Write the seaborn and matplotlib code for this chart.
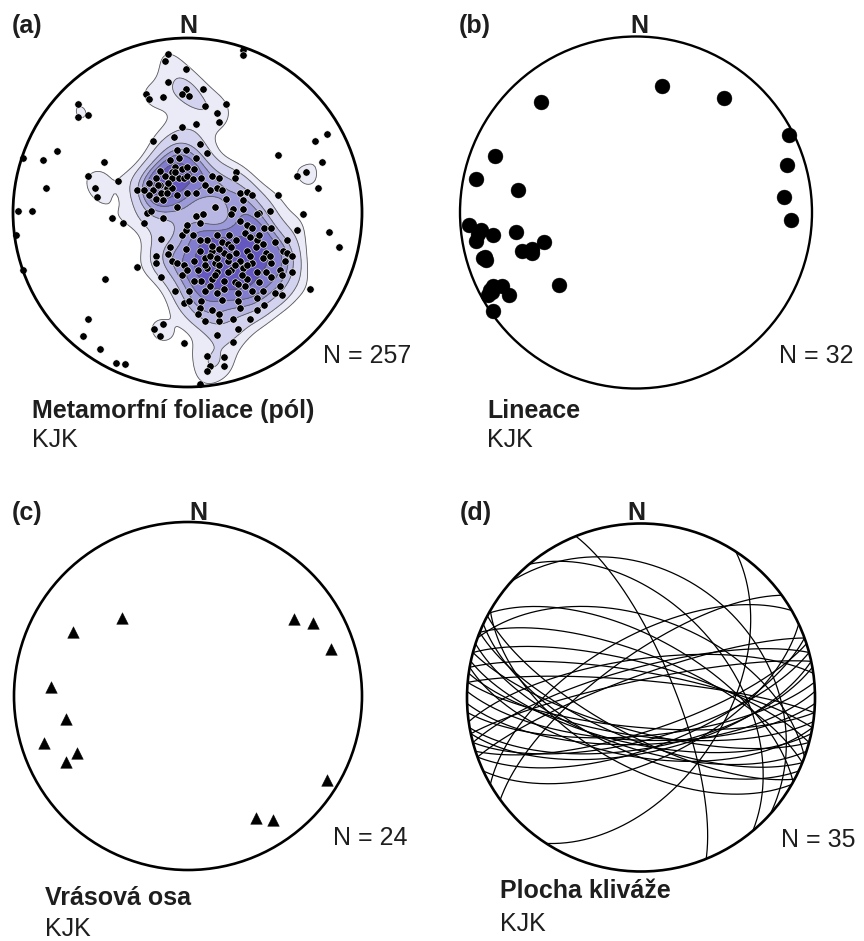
import numpy as np
import pandas as pd
import matplotlib
matplotlib.use("Agg")
import matplotlib.pyplot as plt
import seaborn as sns
from matplotlib.patches import Circle

# (a) poles to metamorphic foliation, positions in the equal-area net (unit radius, x = E, y = N)
fol_x = [
    -0.11, -0.13, -0.01, -0.11, -0.01, -0.03, -0.24, -0.22, -0.14, -0.63,
    -0.63, -0.57, -0.03, -0.08, -0.20, -0.75, -0.83, -0.94, -0.48, -0.57,
    -0.40, -0.81, -0.53, -0.52, -0.97, -0.89, 0.32, 0.32, 0.01, 0.09,
    0.10, 0.22, 0.17, 0.18, 0.05, 0.80, 0.73, 0.52, 0.77, 0.68,
    0.63, 0.75, 0.52, 0.66, -0.98, -0.94, -0.43, -0.37, -0.25, -0.14,
    -0.29, -0.47, -0.57, -0.60, -0.50, -0.41, -0.36, -0.14, -0.19, -0.16,
    -0.02, 0.81, 0.87, 0.70, 0.63, 0.11, 0.21, 0.13, 0.21, 0.11,
    0.07, 0.29, 0.26, 0.17, 0.10, 0.18, -0.23, -0.06, -0.01, -0.05,
    -0.07, -0.03, -0.09, -0.13, -0.09, -0.05, -0.02, -0.18, -0.22, -0.16,
    -0.12, -0.09, -0.20, -0.15, -0.12, -0.22, -0.18, -0.29, -0.25, -0.14,
    -0.06, -0.21, 0.07, 0.11, 0.05, 0.00, 0.04, 0.00, 0.03, 0.08,
    0.14, 0.18, 0.28, 0.27, 0.10, 0.17, 0.20, 0.30, 0.34, 0.37,
    0.22, 0.32, 0.00, 0.05, 0.13, 0.16, 0.26, 0.32, 0.41, 0.47,
    0.05, -0.10, -0.16, -0.06, -0.11, -0.17, -0.07, -0.15, -0.03, -0.01,
    -0.10, -0.11, -0.18, -0.18, -0.09, -0.06, -0.02, -0.03, -0.15, -0.07,
    0.09, 0.25, 0.40, 0.00, 0.07, 0.34, 0.37, 0.33, 0.44, 0.48,
    0.03, 0.11, 0.17, 0.20, 0.23, 0.28, 0.40, 0.43, 0.50, 0.39,
    -0.01, 0.07, 0.14, 0.21, 0.28, 0.34, 0.45, 0.55, 0.57, 0.60,
    0.04, 0.10, 0.16, 0.23, 0.30, 0.37, 0.43, 0.48, 0.56, 0.00,
    0.06, 0.11, 0.17, 0.25, 0.32, 0.40, 0.45, 0.53, 0.60, 0.08,
    0.14, 0.21, 0.27, 0.34, 0.41, 0.48, 0.54, 0.01, 0.10, 0.17,
    0.29, 0.37, 0.50, 0.54, 0.08, 0.20, 0.29, 0.40, 0.07, 0.06,
    0.14, 0.18, 0.40, 0.30, 0.13, 0.18, 0.24, 0.16, 0.21, 0.27,
    0.33, 0.10, 0.14, 0.25, 0.31, 0.36, 0.18, 0.23, 0.29, 0.13,
    0.17, 0.34, 0.07, 0.43, 0.47, 0.04, 0.24, 0.30, 0.36, 0.41,
    0.53, 0.57, -0.02, 0.44, 0.36, 0.26, 0.01,
]
fol_y = [
    0.91, 0.87, 0.82, 0.75, 0.71, 0.68, 0.68, 0.65, 0.66, 0.62,
    0.55, 0.56, 0.49, 0.43, 0.41, 0.35, 0.30, 0.31, 0.29, 0.21,
    0.18, 0.14, 0.14, 0.09, 0.01, 0.01, 0.93, 0.90, 0.67, 0.71,
    0.61, 0.62, 0.57, 0.52, 0.51, 0.45, 0.41, 0.33, 0.29, 0.23,
    0.21, 0.14, 0.10, -0.01, -0.13, -0.33, -0.03, -0.06, -0.06, -0.03,
    -0.31, -0.38, -0.61, -0.71, -0.78, -0.86, -0.87, -0.64, -0.67, -0.71,
    -0.75, -0.11, -0.20, -0.44, -0.10, -0.82, -0.83, -0.88, -0.88, -0.91,
    -0.98, -0.67, -0.74, -0.70, -0.62, -0.62, 0.00, 0.36, 0.36, 0.31,
    0.26, 0.25, 0.23, 0.21, 0.20, 0.20, 0.20, 0.20, 0.17, 0.16,
    0.14, 0.14, 0.13, 0.11, 0.11, 0.10, 0.08, 0.13, 0.13, 0.07,
    0.03, 0.01, 0.39, 0.34, 0.31, 0.26, 0.25, 0.21, 0.19, 0.20,
    0.21, 0.20, 0.23, 0.20, 0.16, 0.14, 0.13, 0.11, 0.12, 0.10,
    0.08, 0.07, 0.11, 0.11, 0.13, 0.03, 0.02, 0.02, 0.00, 0.01,
    -0.02, 0.30, 0.24, 0.10, 0.17, 0.16, 0.23, -0.15, -0.13, -0.10,
    -0.20, -0.24, -0.25, -0.29, -0.28, -0.29, -0.30, -0.36, -0.37, -0.45,
    -0.01, -0.01, -0.01, -0.07, -0.06, -0.07, -0.09, -0.12, -0.09, -0.09,
    -0.13, -0.16, -0.13, -0.17, -0.18, -0.16, -0.16, -0.18, -0.17, -0.20,
    -0.21, -0.22, -0.22, -0.23, -0.23, -0.22, -0.23, -0.22, -0.23, -0.25,
    -0.28, -0.26, -0.29, -0.28, -0.28, -0.29, -0.26, -0.29, -0.28, -0.33,
    -0.33, -0.32, -0.34, -0.33, -0.32, -0.34, -0.34, -0.33, -0.34, -0.39,
    -0.38, -0.39, -0.40, -0.38, -0.40, -0.37, -0.36, -0.45, -0.45, -0.46,
    -0.46, -0.45, -0.46, -0.47, -0.51, -0.50, -0.51, -0.49, -0.55, -0.58,
    -0.56, -0.58, -0.56, -0.55, -0.25, -0.30, -0.25, -0.36, -0.44, -0.30,
    -0.42, -0.30, -0.19, -0.20, -0.36, -0.25, -0.21, -0.34, -0.41, -0.42,
    -0.26, -0.30, -0.16, -0.45, -0.25, -0.39, -0.13, -0.05, -0.14, -0.13,
    -0.42, -0.16, -0.52, -0.53, -0.61, -0.61, -0.51,
]

# (b) lineations
lin_x = [0.15, 0.50, -0.54, 0.87, 0.86, 0.84, 0.88, -0.80, -0.91, -0.67,
         -0.95, -0.88, -0.81, -0.91, -0.68, -0.86, -0.85, -0.65, -0.59, -0.59,
         -0.52, -0.44, -0.81, -0.76, -0.84, -0.72, -0.81, -0.82, -0.90, -0.60,
         -0.83, -0.87]
lin_y = [0.72, 0.65, 0.63, 0.44, 0.27, 0.09, -0.04, 0.32, 0.19, 0.13,
         -0.07, -0.10, -0.13, -0.16, -0.11, -0.25, -0.27, -0.22, -0.21, -0.23,
         -0.17, -0.41, -0.42, -0.42, -0.47, -0.47, -0.56, -0.45, -0.12, -0.22,
         -0.44, -0.26]

# (c) fold axes
fold_x = [-0.38, -0.66, 0.61, 0.72, 0.82, -0.79, -0.70, -0.83, -0.64, -0.70, 0.80, 0.39, 0.49]
fold_y = [0.45, 0.37, 0.44, 0.42, 0.27, 0.05, -0.13, -0.27, -0.33, -0.38, -0.48, -0.70, -0.71]

# (d) cleavage planes, strike / dip (right-hand rule)
clv_strike = [98, 102, 105, 108, 112, 115, 95, 100, 118, 75,
              80, 85, 78, 72, 88, 70, 92, 255, 250, 262,
              258, 285, 280, 292, 275, 299, 338, 33, 234, 312,
              320, 290, 120, 65, 240]
clv_dip = [72, 68, 74, 66, 70, 64, 76, 62, 72, 70,
           66, 72, 64, 74, 68, 66, 70, 76, 80, 72,
           82, 74, 78, 70, 82, 62, 74, 50, 71, 30,
           47, 52, 58, 60, 62]

panels = ["(a)", "(b)", "(c)", "(d)"]
titles = ["Metamorfní foliace (pól)", "Lineace", "Vrásová osa", "Plocha kliváže"]
counts = ["N = 257", "N = 32", "N = 24", "N = 35"]

sns.set_theme(style="white")
plt.rcParams["font.family"] = ["Liberation Sans", "DejaVu Sans"]

W, H = 864, 941
fig = plt.figure(figsize=(W / 100, H / 100), dpi=100)
INK = "#1e1e1e"


def net_axes(cx, cy, r):
    pad = 1.06
    ax = fig.add_axes([(cx - pad * r) / W, 1 - (cy + pad * r) / H,
                       2 * pad * r / W, 2 * pad * r / H])
    return ax


def finish(ax, lw=1.9):
    ax.add_patch(Circle((0, 0), 1, fill=False, lw=lw, ec="black", zorder=6))
    ax.set_xlim(-1.06, 1.06)
    ax.set_ylim(-1.06, 1.06)
    ax.set_axis_off()


def great_circle(strike, dip, n=200):
    s, d = np.radians(strike), np.radians(dip)
    rake = np.linspace(0, np.pi, n)
    sv = np.array([np.sin(s), np.cos(s), 0.0])
    dv = np.array([np.sin(s + np.pi / 2) * np.cos(d), np.cos(s + np.pi / 2) * np.cos(d), -np.sin(d)])
    v = np.outer(np.cos(rake), sv) + np.outer(np.sin(rake), dv)
    plunge = np.arcsin(np.clip(-v[:, 2], -1, 1))
    trend = np.arctan2(v[:, 0], v[:, 1])
    rho = np.sqrt(2) * np.sin((np.pi / 2 - plunge) / 2)
    return rho * np.sin(trend), rho * np.cos(trend)


def label(px, py, s, **kw):
    fig.text(px / W, 1 - py / H, s, color=INK, va="baseline", **kw)


# (a) density contours + poles
df_a = pd.DataFrame({"east": fol_x, "north": fol_y})
ax_a = net_axes(187.5, 212.5, 174.5)
levels = [0.2, 0.31, 0.42, 0.53, 0.65, 0.8, 1.0]
bands = ["#ebebf7", "#d3d3ef", "#b8b7e4", "#9c9ad9", "#817ccd", "#6457bf"]
sns.kdeplot(data=df_a, x="east", y="north", fill=True, levels=levels, color=bands[0],
            colors=bands, bw_adjust=0.58, ax=ax_a)
sns.kdeplot(data=df_a, x="east", y="north", fill=False, levels=levels[:-1], color="#5a5a5a",
            colors="#5a5a5a", linewidths=0.6, bw_adjust=0.58, ax=ax_a)
clip = Circle((0, 0), 1, transform=ax_a.transData)
for coll in ax_a.collections:
    coll.set_clip_path(clip)
sns.scatterplot(data=df_a, x="east", y="north", s=28, color="black", edgecolor="white",
                linewidth=0.4, legend=False, zorder=4, ax=ax_a)
finish(ax_a, 2.0)

# (b) lineations
df_b = pd.DataFrame({"east": lin_x, "north": lin_y})
ax_b = net_axes(636, 212.5, 176)
sns.scatterplot(data=df_b, x="east", y="north", s=115, color="black", edgecolor="black",
                linewidth=0.3, legend=False, zorder=4, ax=ax_b)
finish(ax_b, 1.7)

# (c) fold axes
df_c = pd.DataFrame({"east": fold_x, "north": fold_y})
ax_c = net_axes(188, 696, 174)
sns.scatterplot(data=df_c, x="east", y="north", s=70, marker="^", color="black",
                edgecolor="black", linewidth=0.3, legend=False, zorder=4, ax=ax_c)
finish(ax_c, 1.9)

# (d) cleavage great circles
ax_d = net_axes(641, 697.5, 174)
rows = []
for i, (s, d) in enumerate(zip(clv_strike, clv_dip)):
    gx, gy = great_circle(s, d)
    rows.append(pd.DataFrame({"plane": i, "x": gx, "y": gy}))
gc = pd.concat(rows, ignore_index=True)
sns.lineplot(data=gc, x="x", y="y", units="plane", estimator=None, sort=False,
             color="black", lw=0.9, legend=False, ax=ax_d)
finish(ax_d, 1.9)

# texts
fs = 18
label(12, 33, panels[0], fontsize=fs, fontweight="bold")
label(188, 33, "N", fontsize=fs, fontweight="bold", ha="center")
label(323, 363, counts[0], fontsize=fs)
label(32, 418, titles[0], fontsize=fs, fontweight="bold")
label(32, 447, "KJK", fontsize=fs)

label(459, 33, panels[1], fontsize=fs, fontweight="bold")
label(639, 33, "N", fontsize=fs, fontweight="bold", ha="center")
label(779, 363, counts[1], fontsize=fs)
label(487, 418, titles[1], fontsize=fs, fontweight="bold")
label(487, 447, "KJK", fontsize=fs)

label(12, 520, panels[2], fontsize=fs, fontweight="bold")
label(198, 520, "N", fontsize=fs, fontweight="bold", ha="center")
label(333, 845, counts[2], fontsize=fs)
label(45, 905, titles[2], fontsize=fs, fontweight="bold")
label(45, 936, "KJK", fontsize=fs)

label(460, 520, panels[3], fontsize=fs, fontweight="bold")
label(636, 520, "N", fontsize=fs, fontweight="bold", ha="center")
label(781, 847, counts[3], fontsize=fs)
label(500, 898, titles[3], fontsize=fs, fontweight="bold")
label(500, 931, "KJK", fontsize=fs)

fig.savefig("out.png", dpi=100, facecolor="white")
